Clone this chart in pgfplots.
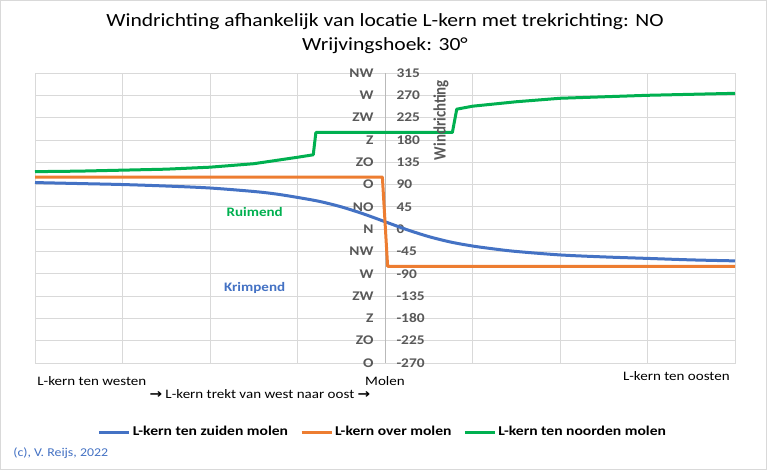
\documentclass[border=0pt]{standalone}
\usepackage{fontspec}
\setmainfont{Carlito}
\newfontfamily\dejavu{DejaVu Sans}
\usepackage{graphicx}
\usepackage{pgfplots}
\pgfplotsset{compat=1.18}

\definecolor{xblue}{HTML}{4472C4}
\definecolor{xorange}{HTML}{ED7D31}
\definecolor{xgreen}{HTML}{00B050}
\definecolor{xgrid}{HTML}{D9D9D9}
\definecolor{xtext}{HTML}{595959}

% the reference is stretched horizontally
\newcommand{\sx}[1]{\scalebox{1.16}[1]{#1}}

\begin{document}
\begin{tikzpicture}
\useasboundingbox (-35bp,-107bp) rectangle (732bp,363bp);
\fill[white] (-35bp,-107bp) rectangle (732bp,363bp);
\begin{axis}[
    scale only axis,
    width=700bp, height=290bp,
    xmin=-4, xmax=4,
    ymin=-270, ymax=315,
    clip=false,
    axis line style={draw=xgrid},
    major tick length=0pt,
    grid=major,
    grid style={xgrid, line width=0.75bp},
    xtick={-4,-3,...,4},
    xticklabels={},
    ytick={-270,-225,...,315},
    yticklabels={\sx{O},\sx{ZO},\sx{Z},\sx{ZW},\sx{W},\sx{NW},\sx{N},\sx{NO},
        \sx{O},\sx{ZO},\sx{Z},\sx{ZW},\sx{W},\sx{NW}},
    yticklabel style={font=\fontsize{13.3}{15}\selectfont\bfseries, text=xtext,
        anchor=east, xshift=342bp},
    extra y ticks={-270,-225,...,315},
    extra y tick labels={\sx{-270},\sx{-225},\sx{-180},\sx{-135},\sx{-90},\sx{-45},\sx{0},
        \sx{45},\sx{90},\sx{135},\sx{180},\sx{225},\sx{270},\sx{315}},
    extra y tick style={grid=none, yticklabel style={anchor=west, xshift=16bp}},
    legend columns=3,
    legend style={at={(0.497,-0.238)}, anchor=center, draw=none,
        font=\fontsize{13.5}{16}\selectfont\bfseries, text=black,
        /tikz/every even column/.append style={column sep=10bp}},
    legend image code/.code={\draw[#1] (0bp,0bp) -- (30bp,0bp);},
]
\draw[gray!55, line width=0.75bp] (axis cs:0,-270) -- (axis cs:0,315);

\addplot[xblue, line width=3bp, smooth, line join=round] coordinates {
(-4,94) (-3.5,92) (-3,90) (-2.5,87) (-2,83) (-1.5,76) (-1.25,71) (-1,64)
(-0.75,56) (-0.5,45) (-0.25,31) (0,15) (0.25,-1) (0.5,-15) (0.75,-26)
(1,-34) (1.25,-40) (1.5,-45) (2,-52) (2.5,-56) (3,-59) (3.5,-62) (4,-64)
};
\addlegendentry{\sx{L-kern ten zuiden molen}}

\addplot[xorange, line width=3bp, line join=round] coordinates {
(-4,105) (-0.03,105) (0.03,-75) (4,-75)
};
\addlegendentry{\sx{L-kern over molen}}

\addplot[xgreen, line width=3bp, line join=round] coordinates {
(-4,116) (-3.5,117) (-3,119) (-2.5,121) (-2,125) (-1.5,132) (-1,145)
(-0.82,150) (-0.79,195) (0.77,195) (0.82,242) (1,248) (1.5,257)
(2,264) (2.5,267) (3,270) (3.5,272) (4,274)
};
\addlegendentry{\sx{L-kern ten noorden molen}}

\node[font=\fontsize{18.67}{20}\selectfont] at (axis cs:0,418) {\sx{Windrichting afhankelijk van locatie L-kern met trekrichting: NO}};
\node[font=\fontsize{18.67}{20}\selectfont] at (axis cs:0,371) {\sx{Wrijvingshoek: 30°}};
\node[rotate=90, font=\fontsize{15}{17}\selectfont\bfseries, text=xtext] at (axis cs:0.64,220) {\scalebox{1}[1.16]{Windrichting}};
\node[font=\fontsize{13}{15}\selectfont\bfseries, text=xgreen] at (axis cs:-1.49,35) {\sx{Ruimend}};
\node[font=\fontsize{13}{15}\selectfont\bfseries, text=xblue] at (axis cs:-1.49,-119) {\sx{Krimpend}};
\node[font=\fontsize{13}{15}\selectfont] at (axis cs:-3.35,-306) {\sx{L-kern ten westen}};
\node[font=\fontsize{13}{15}\selectfont] at (axis cs:0,-306) {\sx{Molen}};
\node[font=\fontsize{13}{15}\selectfont] at (axis cs:3.33,-296) {\sx{L-kern ten oosten}};
\node[font=\fontsize{13}{15}\selectfont] at (axis cs:-1.43,-333) {\sx{{\dejavu\bfseries →} L-kern trekt van west naar oost {\dejavu\bfseries →}}};
\node[anchor=west, font=\fontsize{12}{14}\selectfont, text=xblue] at (rel axis cs:-0.036,-0.31) {\sx{(c), V. Reijs, 2022}};
\end{axis}
\draw[xgrid, line width=1bp] (-34.5bp,-106.5bp) rectangle (731.5bp,362.5bp);
\end{tikzpicture}
\end{document}
